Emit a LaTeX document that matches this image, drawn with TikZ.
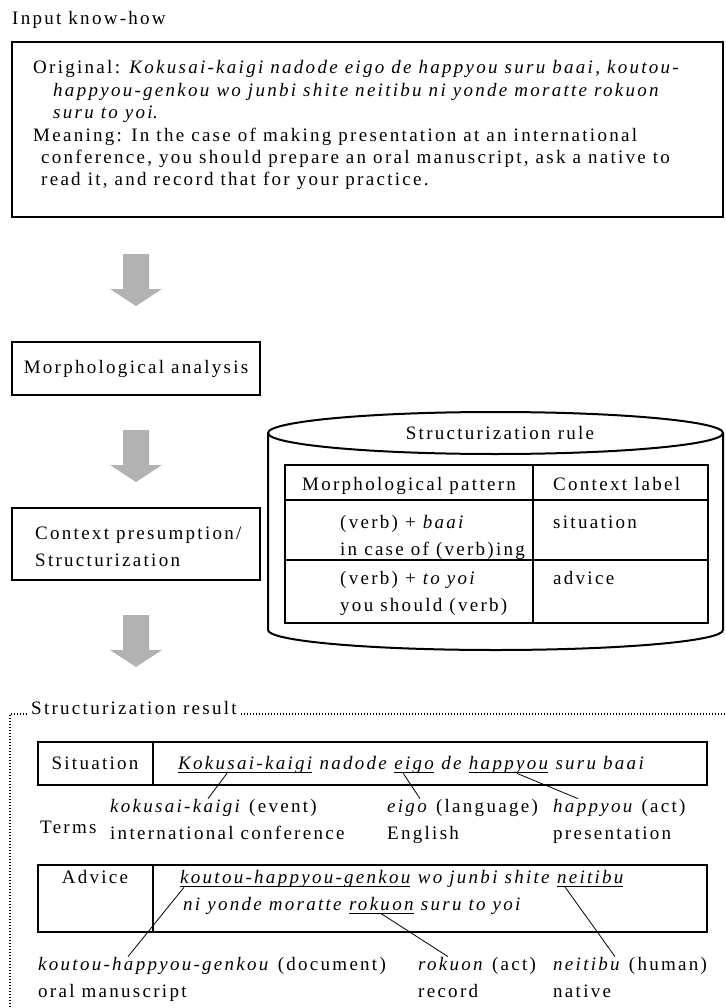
\documentclass[tikz,border=0pt]{standalone}
\usepackage{fontspec}
\setmainfont{Liberation Serif}[LetterSpace=12]
\usetikzlibrary{positioning,calc}
\definecolor{arrowgray}{RGB}{178,178,178}

\tikzstyle{box} = [rectangle, draw=black, line width=2.2pt]
\tikzstyle{txt} = [inner sep=0pt, anchor=base west]
\tikzstyle{lines} = [inner sep=0pt, anchor=base west, align=left]
\tikzstyle{w} = [inner sep=0pt, font=\itshape]
\tikzstyle{link} = [line width=0.8pt]
\tikzstyle{dots} = [line width=1.2pt, dash pattern=on 1.2pt off 1.8pt]

\newcommand{\uword}[1]{\setbox0\hbox{#1}\rlap{\rule[-3.5pt]{\wd0}{0.8pt}}\box0}
\newcommand{\flowarrow}[2]{\fill[arrowgray] (#1-13,#2) -- (#1+13,#2) -- (#1+13,#2+35) -- (#1+26,#2+35) -- (#1,#2+52) -- (#1-26,#2+35) -- (#1-13,#2+35) -- cycle;}

\begin{document}
\fontsize{19}{27}\selectfont
\begin{tikzpicture}[x=1pt,y=-1pt,line join=miter]
    \useasboundingbox (0,0) rectangle (725,1008);
    \node[txt] (IN) at (12,25) {Input know-how};
    \draw[box, line width=2.6pt] (12,42) rectangle (723,217);
    \node[lines, font=\fontsize{19}{22.4}\selectfont] (K) at (33,186)
    {
    Original: \textit{Kokusai-kaigi nadode eigo de happyou suru baai, koutou-}\\
    \hspace*{20pt}\textit{happyou-genkou wo junbi shite neitibu ni yonde moratte rokuon}\\
    \hspace*{20pt}\textit{suru to yoi}.\\
    Meaning: In the case of making presentation at an international\\
    \hspace*{8pt}conference, you should prepare an oral manuscript, ask a native to\\
    \hspace*{8pt}read it, and record that for your practice.
    };

    \flowarrow{136}{254}
    \node[box, minimum width=248pt, minimum height=53pt] (M) at (136,368.5) {Morphological analysis};
    \flowarrow{136}{430}
    \node[box, minimum width=248pt, minimum height=72pt] (C) at (136,544) {};
    \node[lines] (CT) at (35,566) {Context presumption/\\Structurization};
    \flowarrow{136}{615}

    \draw[line width=2pt] (268,433) -- (268,630) arc[start angle=180, end angle=0, x radius=227.5, y radius=20] -- (723,433);
    \draw[line width=2pt] (495.5,433) ellipse [x radius=227.5, y radius=21];
    \node[inner sep=0pt, anchor=base] (R) at (500,439) {Structurization rule};
    \draw[line width=2pt] (285,465) rectangle (708,623);
    \draw[line width=2pt] (285,500) -- (708,500) (285,560) -- (708,560) (533,465) -- (533,623);
    \node[inner sep=0pt, anchor=base] (P1) at (409,490) {Morphological pattern};
    \node[txt] (P2) at (553,490) {Context label};
    \node[lines] (R1) at (340,555) {(verb) + \textit{baai}\\in case of (verb)ing};
    \node[txt] (L1) at (553,528) {situation};
    \node[lines] (R2) at (340,611) {(verb) + \textit{to yoi}\\you should (verb)};
    \node[txt] (L2) at (553,584) {advice};

    \node[txt, fill=white, inner xsep=4pt] (SR) at (27,714) {Structurization result};
    \draw[dots] (SR.base west) -- (10,714) -- (10,1012);
    \draw[dots] (SR.base east) -- (730,714);

    \draw[box] (38,742) rectangle (707,785);
    \draw[box] (153,742) -- (153,785);
    \node[inner sep=0pt, anchor=base] (SL) at (95,769) {Situation};
    \node[w, anchor=base west] (KK) at (178,769) {\uword{Kokusai-kaigi}};
    \node[w, base right=0pt of KK] (KN) {~nadode~\null};
    \node[w, base right=0pt of KN] (EG) {\uword{eigo}};
    \node[w, base right=0pt of EG] (DE) {~de~\null};
    \node[w, base right=0pt of DE] (HP) {\uword{happyou}};
    \node[w, base right=0pt of HP] (SB) {~suru baai};
    \node[txt] (TM) at (40,833) {Terms};
    \node[lines] (T1) at (110,839) {\textit{kokusai-kaigi} (event)\\international conference};
    \node[lines] (T2) at (387,839) {\textit{eigo} (language)\\English};
    \node[lines] (T3) at (553,839) {\textit{happyou} (act)\\presentation};
    \draw[link] ([xshift=49pt]KK.south west) -- ([xshift=98pt]T1.north west);
    \draw[link] ([xshift=9pt]EG.south west) -- ([xshift=33pt]T2.north west);
    \draw[link] ([xshift=48pt]HP.south west) -- ([xshift=25pt]T3.north west);

    \draw[box] (38,865) rectangle (707,932);
    \draw[box] (153,865) -- (153,932);
    \node[inner sep=0pt, anchor=base] (AL) at (95,883) {Advice};
    \node[w, anchor=base west] (KG) at (180,883) {\uword{koutou-happyou-genkou}};
    \node[w, base right=0pt of KG] (WJ) {~wo junbi shite~\null};
    \node[w, base right=0pt of WJ] (NB) {\uword{neitibu}};
    \node[w, anchor=base west] (NY) at (183,910) {ni yonde moratte~\null};
    \node[w, base right=0pt of NY] (RK) {\uword{rokuon}};
    \node[w, base right=0pt of RK] (ST) {~suru to yoi};
    \node[lines] (T4) at (38,997) {\textit{koutou-happyou-genkou} (document)\\oral manuscript};
    \node[lines] (T5) at (418,997) {\textit{rokuon} (act)\\record};
    \node[lines] (T6) at (553,997) {\textit{neitibu} (human)\\native};
    \draw[link] ([xshift=4pt]KG.south west) -- ([xshift=90pt]T4.north west);
    \draw[link] (RK.south) -- ([xshift=30pt]T5.north west);
    \draw[link] ([xshift=8pt]NB.south west) -- ([xshift=62pt]T6.north west);
\end{tikzpicture}
\end{document}
